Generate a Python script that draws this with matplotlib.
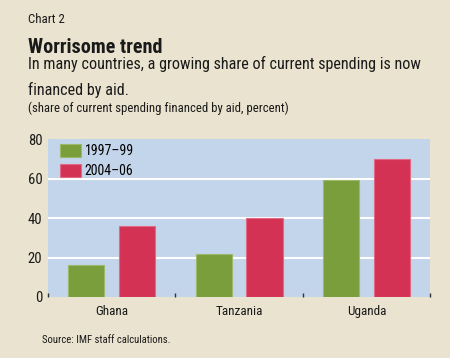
import matplotlib
matplotlib.use('Agg')
import matplotlib.pyplot as plt
import numpy as np

countries = ['Ghana', 'Tanzania', 'Uganda']
series_names = ['1997\u201399', '2004\u201306']
early = [16, 22, 59]
late = [36, 40, 70]
yticks = [0, 20, 40, 60, 80]

plt.rcParams['font.family'] = ['Roboto Condensed', 'Liberation Sans Narrow',
                               'Liberation Sans', 'DejaVu Sans']

bg = '#E9E3CF'
panel = '#C3D5EA'
green = '#7A9E3C'
red = '#D33255'
txt = '#1A1A1A'

fig = plt.figure(figsize=(4.5, 3.58), dpi=100, facecolor=bg)
ax = fig.add_axes([0.1067, 0.1704, 0.8489, 0.4413])
ax.set_facecolor(panel)

x = np.arange(len(countries))
w = 0.283
ax.bar(x - 0.2, early, width=w, color=green, edgecolor='#9DB86A', linewidth=0.8,
       label=series_names[0], zorder=3)
ax.bar(x + 0.2, late, width=w, color=red, edgecolor='#E06A85', linewidth=0.8,
       label=series_names[1], zorder=3)

ax.set_xlim(-0.5, 2.5)
ax.set_ylim(0, 80)
ax.set_yticks(yticks)
ax.set_yticklabels([str(v) for v in yticks], fontsize=10.5, color=txt)
for v in yticks[1:-1]:
    ax.axhline(v, color='white', linewidth=1.5, zorder=1)

ax.set_xticks(x)
ax.set_xticklabels(countries, fontsize=9.5, color=txt)
ax.set_xticks([-0.5, 0.5, 1.5, 2.5], minor=True)
ax.tick_params(axis='x', which='major', length=0, pad=6)
ax.tick_params(axis='x', which='minor', direction='in', length=3, width=1, color='#333333')
ax.tick_params(axis='y', length=0, pad=4)
for s in ax.spines.values():
    s.set_visible(False)

ax.legend(loc='upper left', bbox_to_anchor=(0.01, 1.02), frameon=False, fontsize=10,
          handlelength=1.5, handleheight=1.0, handletextpad=0.25, labelspacing=0.45,
          borderaxespad=0.2)

renderer = fig.canvas.get_renderer()


def header(x0, y0, s, width, size, **kw):
    # put text at baseline y0 and shrink/grow it to the width seen in the reference
    t = fig.text(x0 / 450, 1 - y0 / 358, s, fontsize=size, color=txt, va='baseline', **kw)
    wpx = t.get_window_extent(renderer).width
    t.set_fontsize(size * width / wpx)
    return t


header(28, 23, 'Chart 2', 37, 8)
header(28, 53, 'Worrisome trend', 135, 14, fontweight='bold')
sub = header(28, 69, 'In many countries, a growing share of current spending is now', 394, 11)
fig.text(28 / 450, 1 - 95 / 358, 'financed by aid.', fontsize=sub.get_fontsize(),
         color=txt, va='baseline')
header(28, 112, '(share of current spending financed by aid, percent)', 259, 8)
header(42, 343, 'Source: IMF staff calculations.', 128, 8)

fig.savefig('out.png', dpi=100, facecolor=bg)
